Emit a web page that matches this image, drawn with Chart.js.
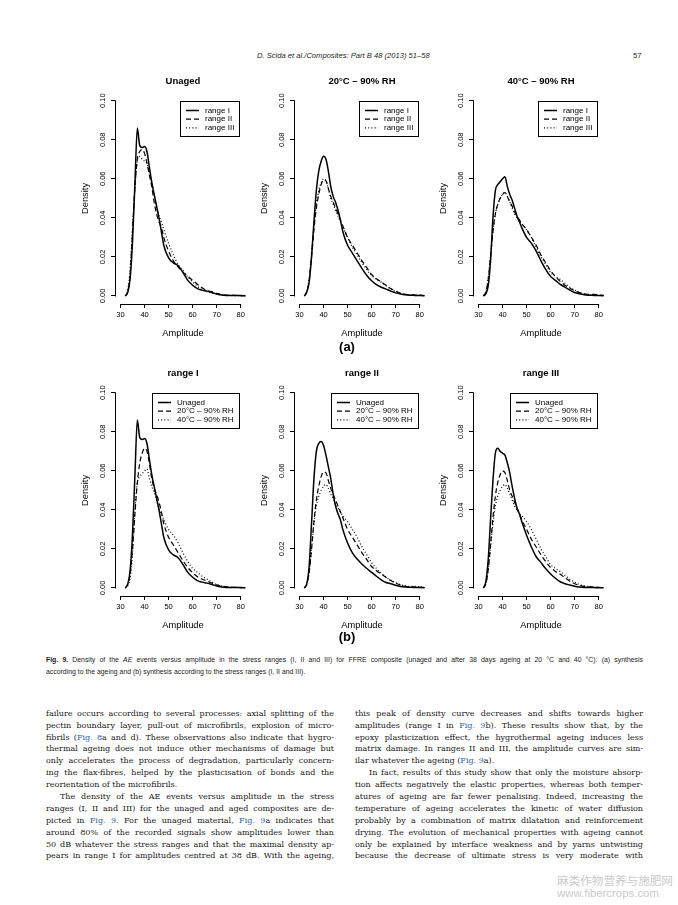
<!DOCTYPE html>
<html>
<head>
<meta charset="utf-8">
<script src="https://cdn.jsdelivr.net/npm/chart.js@4.4.1/dist/chart.umd.min.js"></script>
<style>
  html, body { margin: 0; padding: 0; background: #fff; }
  #page { position: relative; width: 678px; height: 905px; overflow: hidden; }
  canvas.panel { position: absolute; }
  .hdr { position: absolute; top: 51px; line-height: 10px; font-family: 'Liberation Sans', Arial, sans-serif; font-style: italic; font-size: 7.6px; color: #231f20; white-space: nowrap; }
  .sub { position: absolute; width: 40px; margin-left: -20px; text-align: center; font-family: 'Liberation Sans', Arial, sans-serif; font-size: 13px; font-weight: bold; line-height: 14px; }
  .cap { position: absolute; left: 46px; width: 597px; font-family: 'Liberation Sans', Arial, sans-serif; font-size: 6.9px; color: #1e1a1b; }
  .cap div { height: 12px; line-height: 12px; white-space: nowrap; text-align: justify; text-align-last: justify; }
  .cap div.last { text-align-last: left; }
  .col { position: absolute; top: 707.8px; width: 288px; font-family: 'DejaVu Serif', serif; font-size: 8px; color: #1a1718; }
  .col div { height: 11.9px; line-height: 11.9px; white-space: nowrap; text-align: justify; text-align-last: justify; }
  .col div.last { text-align-last: left; }
  .col div.ind { text-indent: 14px; }
  .ref { color: #2f5fa7; }
  .wm { position: absolute; left: 557px; color: #cacaca; font-family: 'Noto Sans CJK SC', 'Noto Sans', sans-serif; white-space: nowrap; }
</style>
</head>
<body>
<div id="page">
  <div class="hdr" style="left:257px;">D. Scida et al./Composites: Part B 48 (2013) 51–58</div>
  <div class="hdr" style="left:633px;font-style:normal;">57</div>

  <canvas class="panel" id="p1" width="181" height="281" style="left:70px;top:68px;"></canvas>
  <canvas class="panel" id="p2" width="181" height="281" style="left:249px;top:68px;"></canvas>
  <canvas class="panel" id="p3" width="181" height="281" style="left:428px;top:68px;"></canvas>
  <canvas class="panel" id="p4" width="181" height="281" style="left:70px;top:360px;"></canvas>
  <canvas class="panel" id="p5" width="181" height="281" style="left:249px;top:360px;"></canvas>
  <canvas class="panel" id="p6" width="181" height="281" style="left:428px;top:360px;"></canvas>

  <div class="sub" style="left:347px;top:340px;">(a)</div>
  <div class="sub" style="left:347px;top:630px;">(b)</div>

  <div class="cap" style="top:654px;">
    <div><b>Fig. 9.</b> Density of the <i>AE</i> events versus amplitude in the stress ranges (I, II and III) for FFRE composite (unaged and after 38 days ageing at 20 °C and 40 °C): (a) synthesis</div>
    <div class="last">according to the ageing and (b) synthesis according to the stress ranges (I, II and III).</div>
  </div>

  <div class="col" style="left:46px;">
    <div>failure occurs according to several processes: axial splitting of the</div>
    <div>pectin boundary layer, pull-out of microfibrils, explosion of micro-</div>
    <div>fibrils (<span class="ref">Fig. 8</span>a and d). These observations also indicate that hygro-</div>
    <div>thermal ageing does not induce other mechanisms of damage but</div>
    <div>only accelerates the process of degradation, particularly concern-</div>
    <div>ing the flax-fibres, helped by the plasticisation of bonds and the</div>
    <div class="last">reorientation of the microfibrils.</div>
    <div class="ind">The density of the AE events versus amplitude in the stress</div>
    <div>ranges (I, II and III) for the unaged and aged composites are de-</div>
    <div>picted in <span class="ref">Fig. 9</span>. For the unaged material, <span class="ref">Fig. 9</span>a indicates that</div>
    <div>around 80% of the recorded signals show amplitudes lower than</div>
    <div>50 dB whatever the stress ranges and that the maximal density ap-</div>
    <div>pears in range I for amplitudes centred at 38 dB. With the ageing,</div>
  </div>

  <div class="col" style="left:355px;">
    <div>this peak of density curve decreases and shifts towards higher</div>
    <div>amplitudes (range I in <span class="ref">Fig. 9</span>b). These results show that, by the</div>
    <div>epoxy plasticization effect, the hygrothermal ageing induces less</div>
    <div>matrix damage. In ranges II and III, the amplitude curves are sim-</div>
    <div class="last">ilar whatever the ageing (<span class="ref">Fig. 9</span>a).</div>
    <div class="ind">In fact, results of this study show that only the moisture absorp-</div>
    <div>tion affects negatively the elastic properties, whereas both temper-</div>
    <div>atures of ageing are far fewer penalising. Indeed, increasing the</div>
    <div>temperature of ageing accelerates the kinetic of water diffusion</div>
    <div>probably by a combination of matrix dilatation and reinforcement</div>
    <div>drying. The evolution of mechanical properties with ageing cannot</div>
    <div>only be explained by interface weakness and by yarns untwisting</div>
    <div>because the decrease of ultimate stress is very moderate with</div>
  </div>

  <div class="wm" style="top:873px;font-size:11.6px;line-height:14px;">麻类作物营养与施肥网</div>
  <div class="wm" style="top:886px;font-size:11.4px;line-height:14px;font-family:'Liberation Sans',sans-serif;">www.fibercrops.com</div>
</div>

<script>
// amplitude grid (dB) shared by every density curve
const amplitude = [32, 33, 34, 35, 36, 37, 38, 39, 40, 41, 42, 43, 44, 45, 46, 47, 48,
                   50, 52, 54, 56, 58, 60, 62, 64, 66, 68, 70, 72, 74, 76, 78, 80, 82];

// unaged
const unagedI   = [0.000, 0.002, 0.009, 0.028, 0.058, 0.086, 0.077, 0.076, 0.0765, 0.074, 0.066, 0.058, 0.052, 0.046, 0.040, 0.033, 0.026,
                   0.0195, 0.0170, 0.0155, 0.0120, 0.0080, 0.0055, 0.0038, 0.0030, 0.0025, 0.0018, 0.0010, 0.0005, 0.0003, 0.0003, 0.0003, 0.0002, 0.0001];
const unagedII  = [0.000, 0.002, 0.011, 0.033, 0.056, 0.070, 0.074, 0.075, 0.073, 0.068, 0.062, 0.056, 0.048, 0.042, 0.038, 0.035, 0.030,
                   0.023, 0.018, 0.0148, 0.0122, 0.0100, 0.0080, 0.0060, 0.0042, 0.0028, 0.0022, 0.0014, 0.0008, 0.0005, 0.0004, 0.0003, 0.0002, 0.0001];
const unagedIII = [0.000, 0.003, 0.014, 0.035, 0.055, 0.069, 0.0715, 0.070, 0.069, 0.068, 0.064, 0.059, 0.052, 0.046, 0.041, 0.038, 0.034,
                   0.027, 0.021, 0.016, 0.013, 0.0098, 0.0072, 0.0050, 0.0032, 0.0022, 0.0015, 0.0009, 0.0005, 0.0003, 0.0003, 0.0002, 0.0001, 0.0001];

// 20 °C - 90% RH
const rh20I   = [0.000, 0.002, 0.007, 0.020, 0.038, 0.054, 0.064, 0.069, 0.0715, 0.070, 0.064, 0.056, 0.051, 0.048, 0.044, 0.039, 0.033,
                 0.026, 0.022, 0.018, 0.014, 0.0105, 0.0078, 0.0058, 0.0045, 0.0035, 0.0025, 0.0016, 0.0010, 0.0006, 0.0004, 0.0003, 0.0002, 0.0001];
const rh20II  = [0.000, 0.002, 0.008, 0.020, 0.034, 0.045, 0.052, 0.057, 0.0595, 0.059, 0.055, 0.051, 0.048, 0.045, 0.042, 0.039, 0.036,
                 0.030, 0.026, 0.022, 0.018, 0.0145, 0.0110, 0.0088, 0.0072, 0.0055, 0.0038, 0.0025, 0.0015, 0.0009, 0.0006, 0.0005, 0.0004, 0.0002];
const rh20III = [0.000, 0.002, 0.009, 0.022, 0.036, 0.047, 0.054, 0.058, 0.060, 0.059, 0.055, 0.050, 0.047, 0.044, 0.041, 0.038, 0.035,
                 0.030, 0.025, 0.021, 0.017, 0.0135, 0.0105, 0.0085, 0.0070, 0.0052, 0.0035, 0.0022, 0.0013, 0.0008, 0.0006, 0.0005, 0.0003, 0.0002];

// 40 °C - 90% RH
const rh40I   = [0.000, 0.001, 0.005, 0.018, 0.040, 0.054, 0.057, 0.0585, 0.060, 0.061, 0.056, 0.052, 0.049, 0.045, 0.041, 0.038, 0.035,
                 0.030, 0.027, 0.023, 0.018, 0.0135, 0.0100, 0.0080, 0.0060, 0.0045, 0.0030, 0.0018, 0.0011, 0.0006, 0.0004, 0.0003, 0.0002, 0.0001];
const rh40II  = [0.000, 0.002, 0.008, 0.020, 0.033, 0.042, 0.047, 0.050, 0.052, 0.053, 0.051, 0.048, 0.046, 0.043, 0.041, 0.039, 0.037,
                 0.034, 0.030, 0.026, 0.021, 0.017, 0.013, 0.010, 0.0075, 0.0055, 0.0040, 0.0027, 0.0017, 0.0011, 0.0008, 0.0008, 0.0006, 0.0003];
const rh40III = [0.000, 0.002, 0.009, 0.021, 0.033, 0.042, 0.047, 0.050, 0.052, 0.053, 0.051, 0.048, 0.045, 0.042, 0.040, 0.038, 0.037,
                 0.034, 0.030, 0.025, 0.020, 0.016, 0.012, 0.010, 0.0085, 0.0065, 0.0045, 0.0030, 0.0018, 0.0011, 0.0007, 0.0005, 0.0003, 0.0002];

const amplitudeTicks = [30, 40, 50, 60, 70, 80];
const densityTicks = [0.00, 0.02, 0.04, 0.06, 0.08, 0.10];

const rangeLabels = ['range I', 'range II', 'range III'];
const ageingLabels = ['Unaged', '20°C – 90% RH', '40°C – 90% RH'];

// solid / dashed / dotted, like R's lty 1, 2, 3
const lineStyles = [
    { dash: [], width: 1.5 },
    { dash: [5, 3], width: 1.2 },
    { dash: [1, 2.2], width: 1.2 }
];

const panels = [
    { id: 'p1', title: 'Unaged', labels: rangeLabels, series: [unagedI, unagedII, unagedIII] },
    { id: 'p2', title: '20°C – 90% RH', labels: rangeLabels, series: [rh20I, rh20II, rh20III] },
    { id: 'p3', title: '40°C – 90% RH', labels: rangeLabels, series: [rh40I, rh40II, rh40III] },
    { id: 'p4', title: 'range I', labels: ageingLabels, series: [unagedI, rh20I, rh40I] },
    { id: 'p5', title: 'range II', labels: ageingLabels, series: [unagedII, rh20II, rh40II] },
    { id: 'p6', title: 'range III', labels: ageingLabels, series: [unagedIII, rh20III, rh40III] }
];

const FONT = "'Liberation Sans', Arial, sans-serif";
Chart.defaults.font.family = FONT;
Chart.defaults.color = '#000';

// R style axes: the axis line only runs from the first to the last tick
const rAxes = {
    id: 'rAxes',
    afterDraw(chart) {
        const { ctx, chartArea, scales: { x, y } } = chart;
        ctx.save();
        ctx.strokeStyle = '#000';
        ctx.lineWidth = 1;
        ctx.beginPath();
        const by = Math.round(chartArea.bottom - 0.5) + 0.5;
        ctx.moveTo(x.getPixelForValue(amplitudeTicks[0]) - 0.5, by);
        ctx.lineTo(x.getPixelForValue(amplitudeTicks[amplitudeTicks.length - 1]) + 0.5, by);
        const lx = Math.round(chartArea.left - 0.5) + 0.5;
        ctx.moveTo(lx, y.getPixelForValue(densityTicks[0]) + 0.5);
        ctx.lineTo(lx, y.getPixelForValue(densityTicks[densityTicks.length - 1]) - 0.5);
        ctx.stroke();
        ctx.restore();
    }
};

// boxed legend in the top right corner, as R's legend("topright")
const boxLegend = {
    id: 'boxLegend',
    afterDraw(chart) {
        const { ctx, scales: { x, y } } = chart;
        const sets = chart.data.datasets;
        ctx.save();
        ctx.font = '8px ' + FONT;
        const textW = Math.max(...sets.map(d => ctx.measureText(d.label).width));
        const w = Math.round(25 + textW + 5), h = 35;
        const right = Math.round(x.getPixelForValue(amplitudeTicks[amplitudeTicks.length - 1]) - 2);
        const top = Math.round(y.getPixelForValue(densityTicks[densityTicks.length - 1]));
        const left = right - w;
        ctx.strokeStyle = '#000';
        ctx.lineWidth = 1;
        ctx.strokeRect(left + 0.5, top + 0.5, w, h);
        sets.forEach((d, i) => {
            const cy = top + 9.5 + i * 8.7;
            ctx.setLineDash(d.borderDash);
            ctx.lineWidth = d.borderWidth;
            ctx.beginPath();
            ctx.moveTo(left + 6, cy);
            ctx.lineTo(left + 19, cy);
            ctx.stroke();
            ctx.setLineDash([]);
            ctx.fillStyle = '#000';
            ctx.textBaseline = 'middle';
            ctx.textAlign = 'left';
            ctx.fillText(d.label, left + 25, cy);
        });
        ctx.restore();
    }
};

function makePanel(p) {
    const datasets = p.series.map((vals, i) => ({
        label: p.labels[i],
        data: amplitude.map((a, k) => ({ x: a, y: vals[k] })),
        borderColor: '#000',
        borderWidth: lineStyles[i].width,
        borderDash: lineStyles[i].dash,
        pointRadius: 0,
        cubicInterpolationMode: 'monotone',
        fill: false
    }));

    new Chart(document.getElementById(p.id), {
        type: 'line',
        data: { datasets },
        options: {
            responsive: false,
            animation: false,
            devicePixelRatio: 1,
            layout: { padding: 0 },
            plugins: {
                legend: { display: false },
                tooltip: { enabled: false },
                title: {
                    display: true,
                    fullSize: false, // centred over the plot region, not the canvas
                    text: p.title,
                    color: '#000',
                    font: { size: 9.5, weight: 'bold' },
                    padding: { top: 8, bottom: 5.5 }
                }
            },
            scales: {
                x: {
                    type: 'linear',
                    min: 27.7,
                    max: 84.3,
                    afterFit: s => { s.height = 45; },
                    ticks: { stepSize: 10, includeBounds: false, autoSkip: false, maxRotation: 0, padding: 2, font: { size: 7.5 }, color: '#000' },
                    grid: { drawOnChartArea: false, drawTicks: true, tickLength: 4, color: '#000', lineWidth: 1 },
                    border: { display: false },
                    title: { display: true, text: 'Amplitude', color: '#000', font: { size: 9.3 }, padding: { top: 0, bottom: 10.4 } }
                },
                y: {
                    type: 'linear',
                    min: -0.0041,
                    max: 0.104,
                    afterFit: s => { s.width = 45; },
                    ticks: {
                        stepSize: 0.02, includeBounds: false, autoSkip: false,
                        minRotation: 90, maxRotation: 90, crossAlign: 'center', padding: 1,
                        font: { size: 7.5 }, color: '#000',
                        callback: v => Math.abs(v).toFixed(2)
                    },
                    grid: { drawOnChartArea: false, drawTicks: true, tickLength: 4, color: '#000', lineWidth: 1 },
                    border: { display: false },
                    title: { display: true, text: 'Density', color: '#000', font: { size: 9.3 }, padding: { top: 9.6, bottom: 0 } }
                }
            }
        },
        plugins: [rAxes, boxLegend]
    });
}

panels.forEach(makePanel);
</script>
</body>
</html>
